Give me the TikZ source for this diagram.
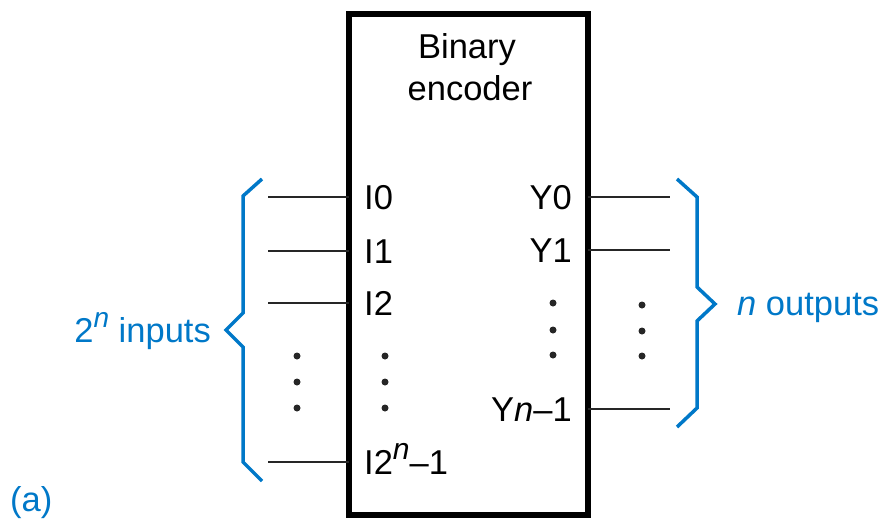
\documentclass[tikz,border=0pt]{standalone}
\usepackage{fontspec}
\setmainfont{Liberation Sans}
\definecolor{braceblue}{RGB}{0,120,200}
\begin{document}
\begin{tikzpicture}[x=1pt,y=-1pt,
  lbl/.style={inner sep=0pt,font=\fontsize{34.5}{40}\selectfont},
  wire/.style={line width=2pt,draw=black!85},
  bracepath/.style={line width=3.5pt,draw=braceblue,line join=miter},
  dotmark/.style={circle,fill=black!85,inner sep=0pt,minimum size=7pt}]
\useasboundingbox (0,0) rectangle (886,525);
% box
\draw[line width=5.5pt] (349,14) rectangle (588,515);
\node[lbl,anchor=base] (t1) at (467,58) {Binary};
\node[lbl,anchor=base] (t2) at (470,100) {encoder};
% inputs
\foreach \n/\y/\t in {i0/197/I0, i1/251/I1, i2/303/I2}{
  \coordinate (\n w) at (268,\y);
  \coordinate (\n e) at (349,\y);
  \draw[wire] (\n w) -- (\n e);
  \node[lbl,anchor=base west] (\n l) at (364,\y+12) {\t};
}
\coordinate (inw) at (268,462);
\coordinate (ine) at (349,462);
\draw[wire] (inw) -- (ine);
\node[lbl,anchor=base west] (inl) at (364,474) {I2\raisebox{0.42em}{\fontsize{30}{30}\selectfont\itshape n}–1};
% outputs
\foreach \n/\y/\t in {y0/197/Y0, y1/250/Y1}{
  \coordinate (\n w) at (588,\y);
  \coordinate (\n e) at (670,\y);
  \draw[wire] (\n w) -- (\n e);
  \node[lbl,anchor=base east] (\n l) at (572,\y+12) {\t};
}
\coordinate (ynw) at (588,409);
\coordinate (yne) at (670,409);
\draw[wire] (ynw) -- (yne);
\node[lbl,anchor=base east] (ynl) at (572,421) {Y{\itshape n}–1};
% dots
\foreach \x/\a/\b/\c/\nm in {297/356/382/408/dl, 385/356/382/408/dm, 553/303/330/355/dr, 642/305/331/356/dq}{
  \node[dotmark] (\nm a) at (\x,\a) {};
  \node[dotmark] (\nm b) at (\x,\b) {};
  \node[dotmark] (\nm c) at (\x,\c) {};
}
% left brace
\draw[bracepath] (262,179) -- (243,196) -- (243,313) -- (226,330) -- (243,347) -- (243,462) -- (262,481);
\node[lbl,anchor=base east,text=braceblue] (inp) at (211,342) {2\raisebox{0.42em}{\fontsize{28}{28}\selectfont\itshape n} inputs};
% right brace
\draw[bracepath] (677,179) -- (697,197) -- (697,287) -- (715,304) -- (697,321) -- (697,408) -- (677,427);
\node[lbl,anchor=base west,text=braceblue] (outp) at (737,315) {{\itshape n} outputs};
% (a)
\node[lbl,anchor=base west,text=braceblue] (lab) at (10,511) {(a)};
\end{tikzpicture}
\end{document}
